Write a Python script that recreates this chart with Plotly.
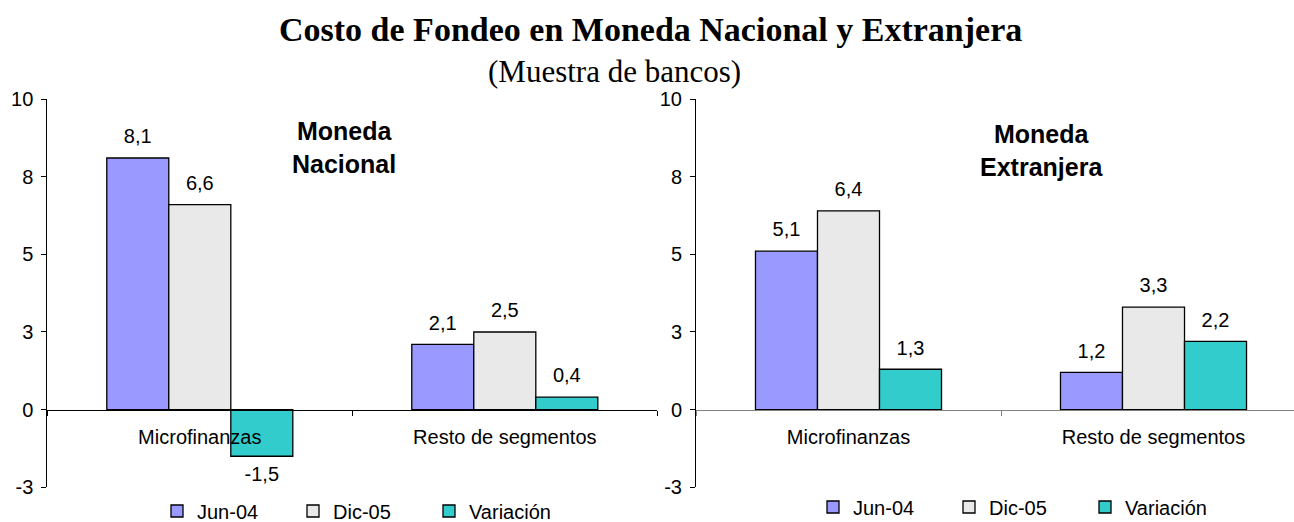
import plotly.graph_objects as go

# ---- data ----
categories = ["Microfinanzas", "Resto de segmentos"]
series_names = ["Jun-04", "Dic-05", "Variación"]
nacional_jun04 = [8.1, 2.1]
nacional_dic05 = [6.6, 2.5]
nacional_var = [-1.5, 0.4]
extranjera_jun04 = [5.1, 1.2]
extranjera_dic05 = [6.4, 3.3]
extranjera_var = [1.3, 2.2]
ytick_vals = [-2.5, 0, 2.5, 5, 7.5, 10]
ytick_text = ["-3", "0", "3", "5", "8", "10"]

title_text = "Costo de Fondeo en Moneda Nacional y Extranjera"
subtitle_text = "(Muestra de bancos)"
panel_labels = ["Moneda<br>Nacional", "Moneda<br>Extranjera"]

# ---- styles ----
colors = ["#9999FF", "#E9E9E9", "#33CCCC"]
SANS = "Liberation Sans, Arial, sans-serif"
SERIF = "Liberation Serif, Times New Roman, serif"
W, H = 1294, 522
YRANGE = [-2.5, 10]
YDOM = [1 - 487.3 / H, 1 - 99 / H]
XDOM1 = [47.3 / W, 657.3 / W]
XDOM2 = [696 / W, 1.0]
CAT_PX = 305.0
XRANGE2 = [-0.5, (W - (696 + CAT_PX / 2)) / CAT_PX]
GAP = 0.39

zero_pos = YDOM[0] + (0 - YRANGE[0]) / (YRANGE[1] - YRANGE[0]) * (YDOM[1] - YDOM[0])

fig = go.Figure()

panels = [
    ("x", "y", "legend", [nacional_jun04, nacional_dic05, nacional_var]),
    ("x2", "y2", "legend2", [extranjera_jun04, extranjera_dic05, extranjera_var]),
]

for xa, ya, lg, series in panels:
    for i, (name, vals) in enumerate(zip(series_names, series)):
        fig.add_trace(go.Bar(
            x=categories, y=vals, name=name, xaxis=xa, yaxis=ya, legend=lg,
            offsetgroup=str(i),
            marker=dict(color=colors[i], line=dict(color="#000000", width=1.3)),
            hoverinfo="skip",
        ))
    for i, vals in enumerate(series):
        fig.add_trace(go.Scatter(
            x=categories, y=vals, xaxis=xa, yaxis=ya, offsetgroup=str(i),
            mode="markers+text", texttemplate="%{y:.1f}",
            textposition=["top center" if v >= 0 else "bottom center" for v in vals],
            textfont=dict(family=SANS, size=20, color="#000000"),
            marker=dict(size=14, opacity=0),
            showlegend=False, hoverinfo="skip", cliponaxis=False,
        ))

yaxis_common = dict(
    range=YRANGE, domain=YDOM, tickmode="array", tickvals=ytick_vals, ticktext=ytick_text,
    showgrid=False, zeroline=False, showline=True, linecolor="#000000", linewidth=1,
    ticks="outside", ticklen=5, tickcolor="#000000", tickwidth=1,
    tickfont=dict(family=SANS, size=20, color="#000000"),
    ticklabelstandoff=4, fixedrange=True,
)
xaxis_common = dict(
    type="category", showgrid=False, zeroline=False, showline=True, linewidth=1,
    ticks="outside", ticklen=5, tickwidth=1, tickson="boundaries",
    tickfont=dict(family=SANS, size=20, color="#000000"),
    anchor="free", position=zero_pos, ticklabelstandoff=9, fixedrange=True,
)

fig.update_layout(
    width=W, height=H,
    margin=dict(l=0, r=0, t=0, b=0, autoexpand=False),
    paper_bgcolor="white", plot_bgcolor="rgba(0,0,0,0)",
    separators=",.",
    barmode="group", bargap=GAP, bargroupgap=0,
    scattermode="group", scattergap=GAP,
    xaxis=dict(domain=XDOM1, range=[-0.5, 1.5], linecolor="#000000", tickcolor="#000000", **xaxis_common),
    xaxis2=dict(domain=XDOM2, range=XRANGE2, linecolor="#808080", tickcolor="#808080", **xaxis_common),
    yaxis=dict(anchor="x", **yaxis_common),
    yaxis2=dict(anchor="x2", **yaxis_common),
    legend=dict(orientation="h", x=157 / W, xanchor="left", y=1 - 511 / H, yanchor="middle",
                font=dict(family=SANS, size=20, color="#000000"),
                entrywidth=91, entrywidthmode="pixels", bgcolor="rgba(0,0,0,0)",
                itemclick=False, itemdoubleclick=False),
    legend2=dict(orientation="h", x=813 / W, xanchor="left", y=1 - 507 / H, yanchor="middle",
                 font=dict(family=SANS, size=20, color="#000000"),
                 entrywidth=91, entrywidthmode="pixels", bgcolor="rgba(0,0,0,0)",
                 itemclick=False, itemdoubleclick=False),
    showlegend=True,
)

annotations = [
    dict(text="<b>" + title_text + "</b>", x=650 / W, y=1 - 29 / H, xref="paper", yref="paper",
         xanchor="center", yanchor="middle", showarrow=False,
         font=dict(family=SERIF, size=34, color="#000000")),
    dict(text=subtitle_text, x=614.5 / W, y=1 - 71 / H, xref="paper", yref="paper",
         xanchor="center", yanchor="middle", showarrow=False,
         font=dict(family=SERIF, size=31, color="#000000")),
    dict(text="<b>" + panel_labels[0] + "</b>", x=344 / W, y=1 - 148 / H, xref="paper", yref="paper",
         xanchor="center", yanchor="middle", showarrow=False,
         font=dict(family=SANS, size=25, color="#000000")),
    dict(text="<b>" + panel_labels[1] + "</b>", x=1041 / W, y=1 - 150 / H, xref="paper", yref="paper",
         xanchor="center", yanchor="middle", showarrow=False,
         font=dict(family=SANS, size=25, color="#000000")),
]
fig.update_layout(annotations=annotations)

fig.write_html(
    "out.html",
    config={"displayModeBar": False},
    post_script="document.body.style.margin='0';document.body.style.padding='0';",
)
